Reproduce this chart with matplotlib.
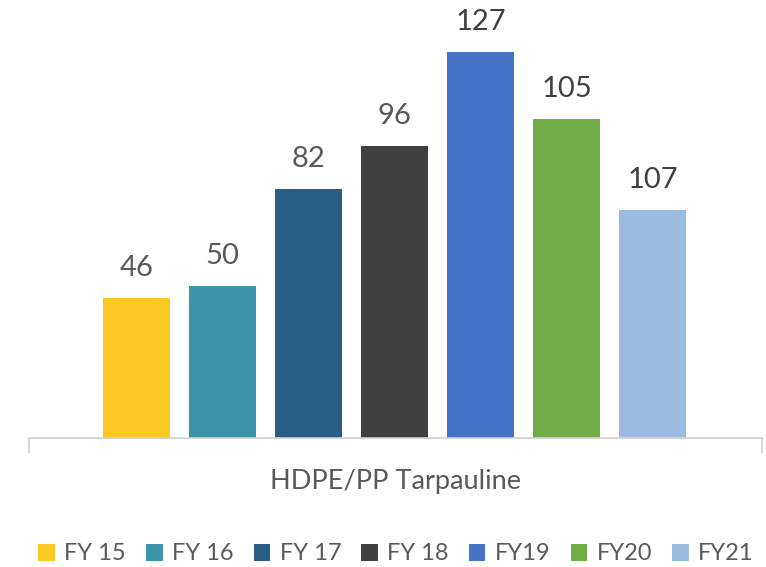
import matplotlib.pyplot as plt
from matplotlib.patches import Patch

plt.rcParams['font.family'] = ['Lato', 'DejaVu Sans']

category = "HDPE/PP Tarpauline"
series = ["FY 15", "FY 16", "FY 17", "FY 18", "FY19", "FY20", "FY21"]
# bar heights as drawn (the FY21 bar is drawn shorter than its label says)
heights = [46, 50, 82, 96, 127, 105, 75]
labels = ["46", "50", "82", "96", "127", "105", "107"]
colors = ["#FFC924", "#3E95A9", "#285E83", "#404040", "#4472C4", "#70AD47", "#9BBBE0"]
label_colors = ["#595959"] * 4 + ["#404040"] * 3

fig = plt.figure(figsize=(7.66, 5.67), dpi=100)
ax = fig.add_axes([29 / 766, 129 / 567, 733 / 766, 438 / 567])

x = list(range(len(heights)))
ax.bar(x, heights, width=0.78, color=colors)
for xi, h, lab, lc in zip(x, heights, labels, label_colors):
    ax.text(xi, h + 5.5, lab, ha="center", va="bottom", fontsize=21, color=lc)

ax.set_xlim(-1.25, 7.27)
ax.set_ylim(0, 144.1)
for s in ["top", "right", "left"]:
    ax.spines[s].set_visible(False)
ax.spines["bottom"].set_color("#D0D0D0")
ax.spines["bottom"].set_linewidth(1.2)
ax.set_yticks([])
ax.set_xticks([-1.25, 7.27])
ax.set_xticklabels([])
ax.tick_params(axis="x", length=11, color="#D0D0D0", width=1.2)

fig.text(395 / 766, 1 - 481 / 567, category, ha="center", va="center",
         fontsize=19.5, color="#595959")

handles = [Patch(facecolor=c, edgecolor="none") for c in colors]
fig.legend(handles, series, loc="center", bbox_to_anchor=(396 / 766, 1 - 554 / 567),
           ncol=7, frameon=False, fontsize=17, handlelength=0.7, handleheight=0.7,
           handletextpad=0.4, columnspacing=0.85, labelcolor="#595959",
           borderpad=0.0, borderaxespad=0.0)

fig.savefig("out.png", dpi=100)
